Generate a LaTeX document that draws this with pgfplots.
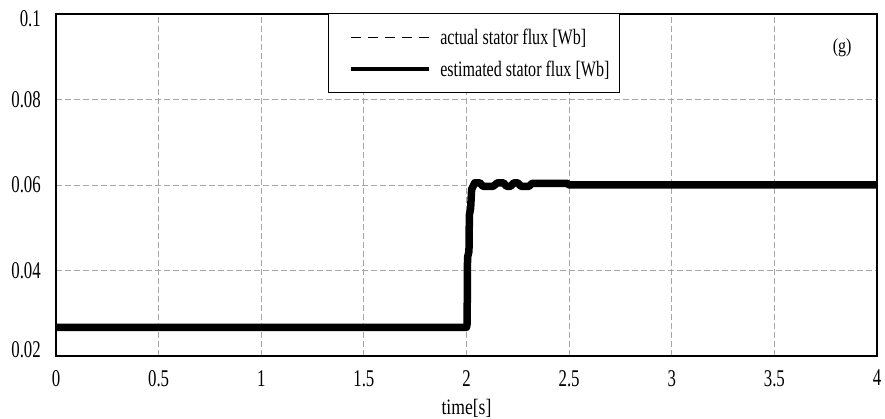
\documentclass[border=0pt]{standalone}
\usepackage{fontspec}
\setmainfont{Liberation Serif}
\newfontfamily\condA{Liberation Serif}[FakeStretch=0.7]
\newfontfamily\condB{Liberation Serif}[FakeStretch=0.73]
\newfontfamily\condC{Liberation Serif}[FakeStretch=0.8]
\usepackage{pgfplots}
\pgfplotsset{compat=1.18}
\pgfplotsset{
    dashedlegend/.style={legend image code/.code={\path (0pt,0pt); \draw[black, line width=1pt, dash pattern=on 10pt off 7pt] (9pt,0pt) -- (87pt,0pt);}},
    thicklegend/.style={legend image code/.code={\path (0pt,0pt); \draw[black, line width=4.5pt] (9pt,0pt) -- (87pt,0pt);}},
}
\newcommand{\yl}[2]{\smash{\raisebox{#1}{#2}}}

\begin{document}
\begin{tikzpicture}
\useasboundingbox (-56pt,-63pt) rectangle (829pt,356pt);
\begin{axis}[
    scale only axis,
    width=821pt, height=342pt,
    xmin=0, xmax=4, ymin=0.02, ymax=0.1,
    xtick={0,0.5,...,4},
    xticklabels={0,0.5,1,1.5,2,2.5,3,3.5,4},
    ytick={0.02,0.04,0.06,0.08,0.1},
    yticklabels={\yl{-2pt}{0.02},\yl{-8pt}{0.04},\yl{-8pt}{0.06},\yl{-8pt}{0.08},\yl{-12.5pt}{0.1}},
    major tick length=0pt,
    axis line style={line width=1.4pt},
    grid=major,
    grid style={dash pattern=on 6pt off 3pt, gray!70, line width=0.9pt},
    tick label style={font=\condA\fontsize{24}{27}\selectfont},
    xticklabel style={inner sep=0pt, yshift=-14pt},
    yticklabel style={inner sep=0pt, xshift=-15pt},
    xlabel={time[s]},
    xlabel style={at={(axis description cs:0.5,0)}, anchor=south, inner sep=0pt, yshift=-62pt,
        font=\condC\fontsize{22}{25}\selectfont},
    legend style={at={(0.331,1.003)}, anchor=north west, draw=black, line width=1.2pt,
        font=\condB\fontsize{22}{25}\selectfont, inner xsep=10pt, inner ysep=15pt,
        row sep=15pt, column sep=9pt, nodes={inner sep=0pt}, cells={anchor=west}},
    legend cell align=left,
]
\addplot[black, line width=0.8pt, dash pattern=on 10pt off 7pt, dashedlegend]
coordinates {
    (0,0.0267) (2.0,0.0267) (2.005,0.043) (2.012,0.0445) (2.014,0.053)
    (2.02,0.0545) (2.025,0.059) (2.04,0.0603) (2.5,0.0603) (4,0.06)
};
\addplot[black, line width=7.5pt, line join=round, thicklegend]
coordinates {
    (0,0.0267) (2.0,0.0267) (2.003,0.0275) (2.005,0.043) (2.012,0.0445)
    (2.014,0.053) (2.02,0.0545) (2.025,0.059) (2.04,0.0605) (2.065,0.0605)
    (2.08,0.0597) (2.13,0.0597) (2.15,0.0605) (2.18,0.0605) (2.195,0.0597)
    (2.215,0.0597) (2.23,0.0605) (2.25,0.0605) (2.265,0.0597) (2.305,0.0597)
    (2.32,0.0604) (2.49,0.0604) (2.5,0.06) (4,0.06)
};
\legend{actual stator flux [Wb], estimated stator flux [Wb]}
\node[anchor=center, font=\condC\fontsize{20}{23}\selectfont] at (axis cs:3.83,0.092) {(g)};
\end{axis}
\end{tikzpicture}
\end{document}
